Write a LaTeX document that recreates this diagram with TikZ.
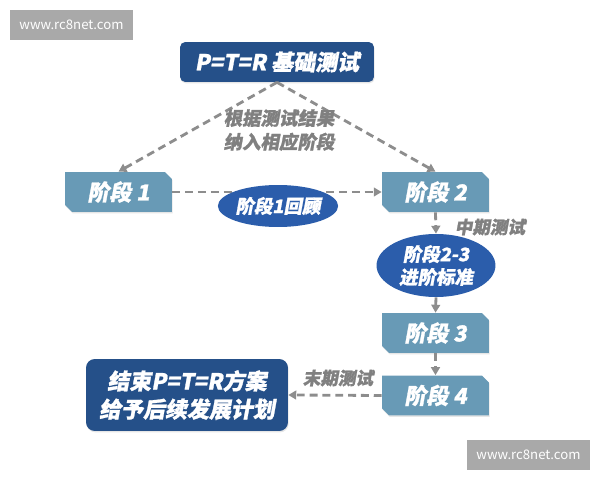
\documentclass[tikz,border=0pt]{standalone}
\usepackage{fontspec}
\setmainfont{Noto Sans CJK SC}
\newfontfamily\heavycjk{Noto Sans CJK SC}[FakeSlant=0.18,BoldFeatures={FakeSlant=0.18,FakeBold=1.2}]
\usetikzlibrary{arrows.meta,shapes.misc,shapes.geometric,shadows}
\definecolor{planblue}{RGB}{37,80,137}
\definecolor{ovalblue}{RGB}{43,93,171}
\definecolor{stageblue}{RGB}{104,154,182}
\definecolor{notegray}{RGB}{128,128,128}
\definecolor{markgray}{RGB}{169,169,169}
\begin{document}
\begin{tikzpicture}[x=0.02cm,y=-0.02cm,
  planbox/.style={rounded corners=3pt,fill=planblue,text=white,inner sep=0pt,
    font=\heavycjk\bfseries\fontsize{12.5pt}{16pt}\selectfont,align=center,
    drop shadow={opacity=0.2,shadow xshift=0.4pt,shadow yshift=-0.8pt}},
  stagebox/.style={chamfered rectangle,chamfered rectangle corners={north east,south west},
    chamfered rectangle xsep=2pt,chamfered rectangle ysep=2pt,
    fill=stageblue,text=white,inner sep=0pt,minimum width=2.14cm,minimum height=0.8cm,
    font=\heavycjk\bfseries\fontsize{12.5pt}{15pt}\selectfont,
    drop shadow={opacity=0.2,shadow xshift=0.4pt,shadow yshift=-0.8pt}},
  oval/.style={ellipse,fill=ovalblue,text=white,inner sep=0pt,align=center,
    font=\heavycjk\bfseries\fontsize{10.5pt}{13pt}\selectfont},
  note/.style={text=notegray,align=center,font=\heavycjk\bfseries\fontsize{10.5pt}{13.5pt}\selectfont},
  link/.style={draw=notegray!90,line width=1.6pt,dash pattern=on 4.5pt off 2.8pt,
    -{Triangle[length=4.5pt,width=5pt]}},
  webmark/.style={fill=markgray,text=white,minimum width=2.46cm,minimum height=0.6cm,
    inner sep=0pt,font=\fontsize{7.5pt}{9pt}\selectfont}]
\useasboundingbox (0,0) rectangle (600,480);
% watermarks
\node[webmark] (wmtop) at (71.5,25) {www.rc8net.com};
\node[webmark] (wmbot) at (528.5,455) {www.rc8net.com};
% boxes
\node[planbox,minimum width=3.88cm,minimum height=0.8cm] (base) at (277,62) {P=T=R 基础测试};
\node[stagebox] (s1) at (118.5,192) {阶段 1};
\node[stagebox] (s2) at (435.5,192) {阶段 2};
\node[stagebox] (s3) at (435.5,333) {阶段 3};
\node[stagebox] (s4) at (435.5,395.5) {阶段 4};
\node[planbox,rounded corners=5pt,minimum width=4.04cm,minimum height=1.44cm] (finish) at (187,395)
  {结束P=T=R方案\\给予后续发展计划};
% connectors
\draw[link] (base.south) -- (s1.north);
\draw[link] (base.south) -- (s2.north);
\draw[link] (s1.east) -- (s2.west);
\node[oval,minimum width=2.14cm,minimum height=0.84cm] (review) at (278,206) {阶段1回顾};
\node[oval,minimum width=2.38cm,minimum height=1.26cm] (gate) at (436,265.5) {阶段2-3\\进阶标准};
\draw[link] (s2.south) -- (gate.north);
\draw[link] (gate.south) -- (s3.north);
\draw[link] (s3.south) -- (s4.north);
\draw[link] (s4.west) -- (finish.east);
% labels
\node[note] (sortnote) at (279,130) {根据测试结果\\纳入相应阶段};
\node[note,font=\heavycjk\bfseries\fontsize{10pt}{12pt}\selectfont] (midnote) at (490,227) {中期测试};
\node[note,font=\heavycjk\bfseries\fontsize{10pt}{12pt}\selectfont] (endnote) at (338,378) {末期测试};
\end{tikzpicture}
\end{document}
